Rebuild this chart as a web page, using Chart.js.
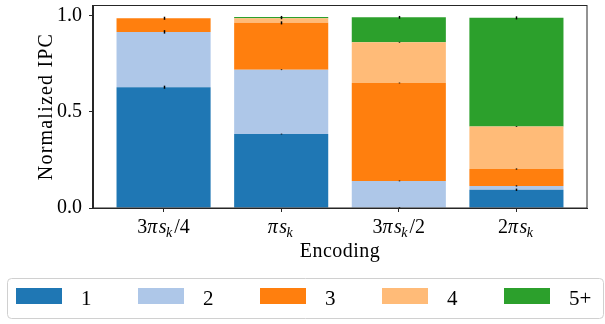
<!DOCTYPE html>
<html>
<head>
<meta charset="utf-8">
<script src="https://cdn.jsdelivr.net/npm/chart.js@4/dist/chart.umd.min.js"></script>
<style>
  html, body { margin: 0; padding: 0; background: #fff; }
  #wrap { width: 605px; height: 324px; position: relative; }
</style>
</head>
<body>
<div id="wrap"><canvas id="c" width="605" height="324"></canvas></div>
<script>
// Encoding variants on the x axis ("_k" marks a subscript k)
const encodings = ['3πs_k/4', 'πs_k', '3πs_k/2', '2πs_k'];
// Legend entries, one per stacked series
const seriesLabels = ['1', '2', '3', '4', '5+'];
const seriesColors = ['#1f77b4', '#aec7e8', '#ff7f0e', '#ffbb78', '#2ca02c'];

// Normalized IPC share of each series, per encoding
const ipc1  = [0.629, 0.385, 0.002, 0.095];
const ipc2  = [0.288, 0.335, 0.139, 0.020];
const ipc3  = [0.071, 0.244, 0.510, 0.088];
const ipc4  = [0.000, 0.024, 0.212, 0.222];
const ipc5  = [0.000, 0.007, 0.130, 0.565];

// Error half-widths for each segment top
const err1 = [0.008, 0.002, 0.000, 0.006];
const err2 = [0.009, 0.002, 0.002, 0.003];
const err3 = [0.008, 0.008, 0.002, 0.003];
const err4 = [0.000, 0.005, 0.002, 0.002];
const err5 = [0.000, 0.005, 0.007, 0.008];

const yTicks = [0.0, 0.5, 1.0];
const xTitle = 'Encoding';
const yTitle = 'Normalized IPC';

const series = [ipc1, ipc2, ipc3, ipc4, ipc5];
const errors = [err1, err2, err3, err4, err5];

const SERIF = '"Liberation Serif", "DejaVu Serif", serif';
const AXIS_COLOR = '#262626';

// Draws a label like "3πs_k/2": letters italic, "_x" as a subscript
function drawMathLabel(ctx, str, cx, baseline, size) {
  const parts = [];
  for (let i = 0; i < str.length; i++) {
    let ch = str[i];
    let sub = false;
    if (ch === '_') { sub = true; ch = str[++i]; }
    const italic = /[a-zπ]/i.test(ch);
    const fs = sub ? size * 0.7 : size;
    parts.push({ ch, sub, font: (italic ? 'italic ' : '') + fs + 'px ' + SERIF });
  }
  let total = 0;
  parts.forEach(p => {
    ctx.font = p.font;
    p.w = ctx.measureText(p.ch).width + (p.ch === 'π' ? 1.5 : 0) + (p.sub ? 1.5 : 0);
    total += p.w;
  });
  let x = cx - total / 2;
  ctx.textAlign = 'left';
  ctx.textBaseline = 'alphabetic';
  parts.forEach(p => {
    ctx.font = p.font;
    ctx.fillText(p.ch, x - (p.sub ? 0.5 : 0), baseline + (p.sub ? size * 0.2 : 0));
    x += p.w;
  });
}

const decorations = {
  id: 'decorations',
  afterDatasetsDraw(chart) {
    const { ctx, scales } = chart;
    const y = scales.y;
    // error bars at the top of every stacked segment
    ctx.save();
    ctx.strokeStyle = '#000';
    ctx.lineWidth = 1.5;
    const cum = encodings.map(() => 0);
    series.forEach((vals, si) => {
      const meta = chart.getDatasetMeta(si);
      vals.forEach((v, ci) => {
        cum[ci] += v;
        if (v <= 0) return;
        const e = Math.max(errors[si][ci], 0.002);
        const el = meta.data[ci];
        const x = Math.round(el.x) + 0.5;
        ctx.beginPath();
        ctx.moveTo(x, y.getPixelForValue(cum[ci] - e));
        ctx.lineTo(x, y.getPixelForValue(cum[ci] + e));
        ctx.stroke();
      });
    });
    ctx.restore();
  },
  afterDraw(chart) {
    const { ctx, chartArea: a, scales } = chart;
    ctx.save();
    // frame around the plot
    ctx.strokeStyle = AXIS_COLOR;
    ctx.lineWidth = 1;
    ctx.strokeRect(Math.round(a.left) - 0.5, Math.round(a.top) + 0.5,
                   Math.round(a.right) - Math.round(a.left) + 0.5, Math.round(a.bottom) - Math.round(a.top) - 0.5);

    // x tick labels and axis title
    ctx.fillStyle = '#000';
    encodings.forEach((lab, i) => {
      drawMathLabel(ctx, lab, scales.x.getPixelForValue(i), a.bottom + 25, 20);
    });
    ctx.font = '20px ' + SERIF;
    ctx.textAlign = 'center';
    ctx.textBaseline = 'alphabetic';
    ctx.letterSpacing = '0.5px';
    ctx.fillText(xTitle, (a.left + a.right) / 2, a.bottom + 49);

    // y axis title
    ctx.save();
    ctx.translate(47, (a.top + a.bottom) / 2);
    ctx.rotate(-Math.PI / 2);
    ctx.letterSpacing = '1.2px';
    ctx.textBaseline = 'middle';
    ctx.fillText(yTitle, 0, 0);
    ctx.restore();
    ctx.letterSpacing = '0px';

    // legend
    const lx = 7.5, ly = 278.5, lw = 596, lh = 40;
    ctx.beginPath();
    ctx.roundRect(lx, ly, lw, lh, 4);
    ctx.fillStyle = 'rgba(255,255,255,0.8)';
    ctx.fill();
    ctx.strokeStyle = '#d0d0d0';
    ctx.lineWidth = 1;
    ctx.stroke();
    chart.data.datasets.forEach((ds, i) => {
      const px = 16 + 122 * i;
      ctx.fillStyle = ds.backgroundColor;
      ctx.fillRect(px, 288, 46, 16);
      ctx.fillStyle = '#000';
      ctx.font = '21px ' + SERIF;
      ctx.textAlign = 'left';
      ctx.textBaseline = 'alphabetic';
      ctx.fillText(ds.label, px + 65, 305);
    });
    ctx.restore();
  }
};

new Chart(document.getElementById('c'), {
  type: 'bar',
  data: {
    datasets: series.map((vals, si) => ({
      label: seriesLabels[si],
      data: vals.map((v, ci) => ({ x: ci, y: v })),
      backgroundColor: seriesColors[si],
      borderWidth: 0,
      barPercentage: 0.8,
      categoryPercentage: 1.0
    }))
  },
  options: {
    responsive: false,
    animation: false,
    layout: { padding: { left: 0, right: 18, top: 5, bottom: 0 } },
    plugins: { legend: { display: false }, tooltip: { enabled: false } },
    scales: {
      x: {
        type: 'linear',
        stacked: true,
        min: -0.6,
        max: 3.6,
        offset: false,
        afterBuildTicks: s => { s.ticks = encodings.map((_, i) => ({ value: i })); },
        afterFit: s => { s.height = 116; s.paddingLeft = 0; s.paddingRight = 0; },
        ticks: { display: false },
        grid: { offset: false, drawOnChartArea: false, drawTicks: true, tickLength: 4, tickColor: AXIS_COLOR, tickWidth: 1 },
        border: { display: true, color: AXIS_COLOR, width: 1 }
      },
      y: {
        stacked: true,
        min: 0,
        max: 1.057,
        afterBuildTicks: s => { s.ticks = yTicks.map(v => ({ value: v })); },
        afterFit: s => { s.width = 93; s.paddingTop = 0; s.paddingBottom = 0; },
        ticks: {
          callback: v => Number(v).toFixed(1),
          font: { family: SERIF, size: 20 },
          color: '#000',
          padding: 7
        },
        grid: { drawOnChartArea: false, drawTicks: true, tickLength: 4, tickColor: AXIS_COLOR, tickWidth: 1 },
        border: { display: true, color: AXIS_COLOR, width: 1 }
      }
    }
  },
  plugins: [decorations]
});
</script>
</body>
</html>
